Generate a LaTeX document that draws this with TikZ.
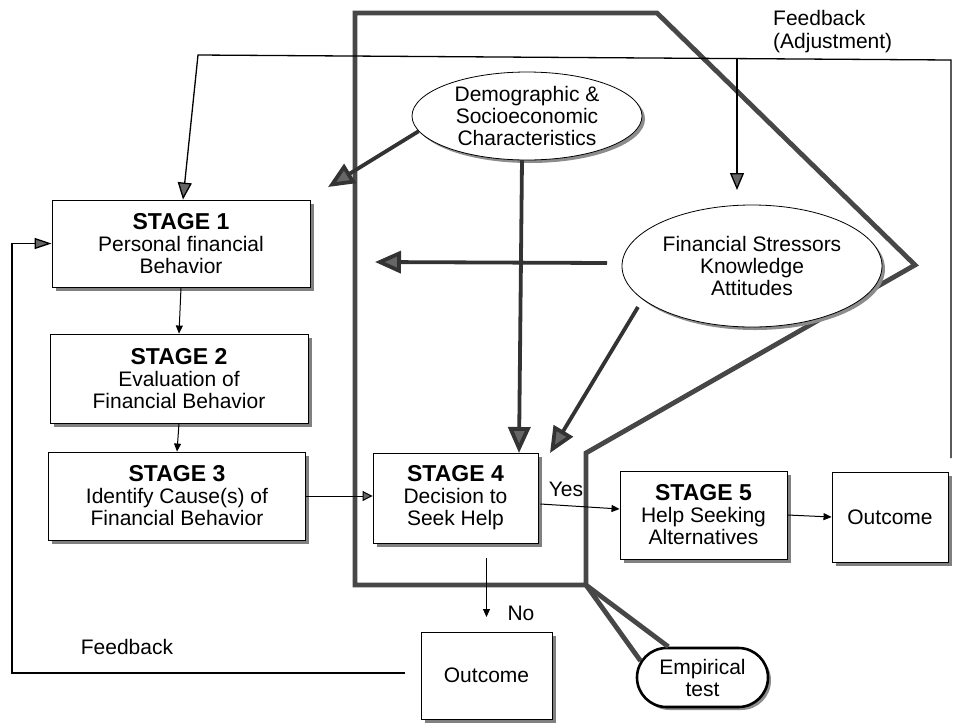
\documentclass[tikz,border=0pt]{standalone}
\usepackage{fontspec}
\setmainfont{Liberation Sans}
\usetikzlibrary{arrows.meta,shapes.geometric,shapes.misc,shadows,calc}
\newcommand{\stgfont}{\bfseries\fontsize{23}{22}\selectfont}
\tikzset{
  txt/.style={font=\fontsize{21}{22}\selectfont, inner sep=0pt},
  stagebox/.style={draw=black, line width=0.9pt, fill=white, rectangle, align=center,
    inner sep=0pt, font=\fontsize{21}{22}\selectfont,
    drop shadow={shadow xshift=3.5pt, shadow yshift=-3.5pt, fill=black!50, opacity=1}},
  ellbox/.style={draw=black, line width=0.8pt, fill=white, ellipse, inner sep=0pt,
    drop shadow={shadow xshift=3pt, shadow yshift=-3pt, fill=black!45, opacity=1}},
  empbox/.style={draw=black, line width=2.6pt, fill=white, rounded rectangle, align=center,
    inner sep=0pt, font=\fontsize{21}{22}\selectfont,
    drop shadow={shadow xshift=3pt, shadow yshift=-3pt, fill=black!45, opacity=1}},
  thinarrow/.style={draw=black, line width=1pt, -{Triangle[length=8pt,width=7pt]}},
  medarrow/.style={draw=black, line width=1.3pt, -{Triangle[length=17pt,width=14pt,fill=black!60]}},
  bigarrow/.style={draw=black!80, line width=3.8pt, -{Triangle[length=26pt,width=22pt,fill=black!60]}},
  wall/.style={draw=black!72, line width=4.8pt, line join=miter}
}
\begin{document}
\begin{tikzpicture}[x=1pt,y=-1pt]
\useasboundingbox (0,0) rectangle (954,724);

% empirical test and thick boundary
\node[empbox, minimum width=131, minimum height=59] (emp) at (702.5,677.5) {Empirical\\test};
\coordinate (w1) at (355,13);
\coordinate (w2) at (657,13);
\coordinate (w3) at (915,265);
\coordinate (w4) at (586,453);
\coordinate (w5) at (586,585);
\coordinate (w6) at (355,585);
\draw[wall] (w5) -- (emp.165);
\draw[wall] (w5) -- (emp.138);
\draw[wall] (w1) -- (w2) -- (w3) -- (w4) -- (w5) -- (w6) -- cycle;

% ellipses
\node[ellbox, minimum width=230, minimum height=88,
  label={[txt,align=center]center:Demographic \&\\Socioeconomic\\Characteristics}] (dem) at (527,116) {};
\node[ellbox, minimum width=260, minimum height=122,
  label={[txt,align=center]center:Financial Stressors\\Knowledge\\Attitudes}] (fin) at (752,266) {};

% stage boxes
\node[stagebox, minimum width=258, minimum height=87] (s1) at (181,243.5)
  {{\stgfont STAGE 1}\\Personal financial\\Behavior};
\node[stagebox, minimum width=258, minimum height=89] (s2) at (179,378.5)
  {{\stgfont STAGE 2}\\Evaluation of\\Financial Behavior};
\node[stagebox, minimum width=257, minimum height=88] (s3) at (177,496)
  {{\stgfont STAGE 3}\\Identify Cause(s) of\\Financial Behavior};
\node[stagebox, minimum width=165, minimum height=90] (s4) at (455.5,498)
  {{\stgfont STAGE 4}\\Decision to\\Seek Help};
\node[stagebox, minimum width=167, minimum height=88] (s5) at (703.5,515)
  {{\stgfont STAGE 5}\\Help Seeking\\Alternatives};
\node[stagebox, minimum width=116, minimum height=90] (outR) at (890,517) {Outcome};
\node[stagebox, minimum width=131, minimum height=87] (outB) at (486.5,675.5) {Outcome};

% labels
\node[txt, align=left, anchor=west, font=\fontsize{21}{23}\selectfont] (fbadj) at (773,31.5) {Feedback\\(Adjustment)};
\node[txt] (fbl) at (127,647) {Feedback};
\node[txt] (yes) at (566,489) {Yes};
\node[txt] (no) at (521,613) {No};

% stage flow
\draw[thinarrow] (s1.south) -- (s2.north);
\draw[thinarrow] (s2.south) -- (s3.north);
\draw[thinarrow, -{Triangle[length=10pt,width=10pt,fill=black!60]}] (s3.east) -- (s3.east -| s4.west);
\draw[thinarrow] ($(s4.east)+(2,6)$) -- ($(s5.west)+(0,-6)$);
\draw[thinarrow] (s5.east) -- (outR.west);
\coordinate (noA) at (486.5,558);
\coordinate (noB) at (486.5,617);
\draw[thinarrow] (noA) -- (noB);

% bottom feedback
\coordinate (fb1) at (405,673);
\coordinate (fb2) at (12,673);
\draw[medarrow, -{Triangle[length=17pt,width=11pt,fill=black!60]}] (fb1) -- (fb2) |- (s1.west);

% top feedback (adjustment)
\coordinate (ft1) at (951,458);
\coordinate (ft2) at (951,60);
\coordinate (ft3) at (198,55);
\draw[medarrow] (ft1) -- (ft2) -- (ft3) -- ($(s1.north)+(2,0)$);
\coordinate (adj1) at (737,59);
\coordinate (adj2) at (737,190);
\draw[medarrow] (adj1) -- (adj2);

% big arrows
\coordinate (t1) at (328,187);
\draw[bigarrow] (dem.188) -- (t1);
\coordinate (d0) at (522,160);
\coordinate (d1) at (519,453);
\draw[bigarrow] (d0) -- (d1);
\coordinate (h0) at (607,263);
\coordinate (h1) at (375,262);
\draw[bigarrow] (h0) -- (h1);
\coordinate (f0) at (638,307);
\coordinate (f1) at (550,453);
\draw[bigarrow] (f0) -- (f1);
\end{tikzpicture}
\end{document}
